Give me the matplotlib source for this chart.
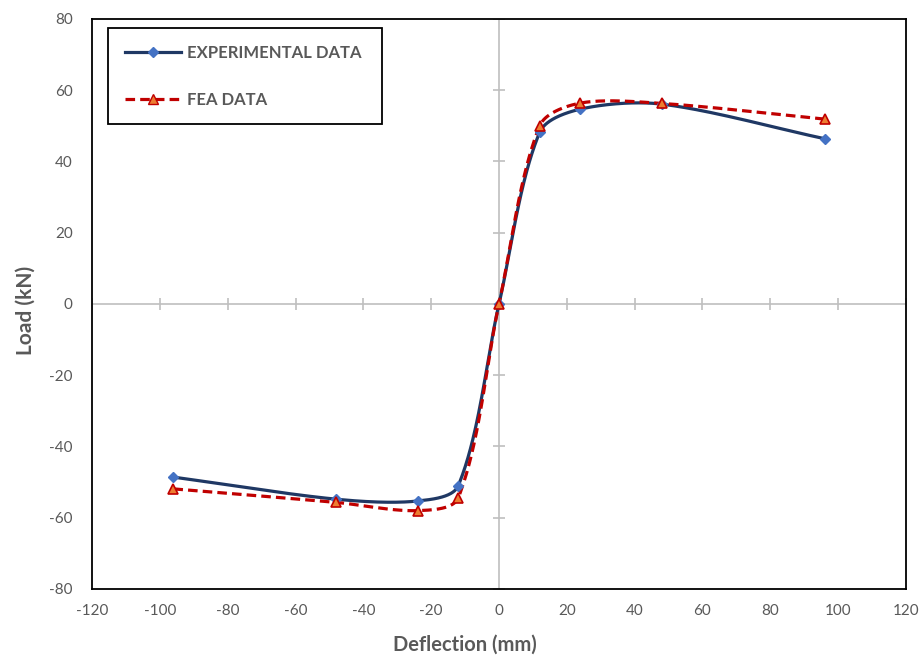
import matplotlib
matplotlib.use("Agg")
import matplotlib.pyplot as plt
import numpy as np

# Datos (carga vs deflexion)
deflexion = [-96, -48, -24, -12, 0, 12, 24, 48, 96]
carga_exp = [-48.6, -54.8, -55.3, -51.0, 0, 48.2, 54.7, 56.1, 46.4]
carga_fea = [-51.9, -55.7, -58.0, -54.4, 0, 50.0, 56.4, 56.3, 51.9]

xticks = list(range(-120, 121, 20))
yticks = list(range(-80, 81, 20))

plt.rcParams['font.family'] = ['Lato', 'DejaVu Sans']
plt.rcParams['axes.unicode_minus'] = False
gris = '#595959'


def suavizar(x, y, n=60, k=0.3, sy=1.05):
    # curva suavizada tipo Excel: tangentes escaladas por largo del tramo
    p = np.column_stack([x, np.array(y) * sy]).astype(float)
    m = len(p)
    tang = []
    for i in range(m):
        a = p[max(i - 1, 0)]
        b = p[min(i + 1, m - 1)]
        d = b - a
        tang.append(d / np.linalg.norm(d))
    pts = [p[0]]
    for i in range(m - 1):
        p1, p2 = p[i], p[i + 1]
        L = np.linalg.norm(p2 - p1)
        c1 = p1 + tang[i] * L * k
        c2 = p2 - tang[i + 1] * L * k
        t = np.linspace(0, 1, n)[1:, None]
        seg = ((1 - t) ** 3) * p1 + 3 * ((1 - t) ** 2) * t * c1 + 3 * (1 - t) * t ** 2 * c2 + t ** 3 * p2
        pts.extend(seg)
    pts = np.array(pts)
    return pts[:, 0], pts[:, 1] / sy


fig = plt.figure(figsize=(9.22, 6.55), dpi=100)
ax = fig.add_axes([0.0998, 0.1008, 0.8828, 0.8702])

ax.axhline(0, color='#BFBFBF', lw=1.2, zorder=1)
ax.axvline(0, color='#BFBFBF', lw=1.2, zorder=1)
ax.plot(xticks, [0] * len(xticks), ls='none', marker='|', ms=8, mew=1.2, color='#BFBFBF', zorder=1)
ax.plot([0] * len(yticks), yticks, ls='none', marker='_', ms=8, mew=1.2, color='#BFBFBF', zorder=1)

xs, ys = suavizar(deflexion, carga_exp)
ax.plot(xs, ys, color='#1F3864', lw=2.3, zorder=3)
ax.plot(deflexion, carga_exp, ls='none', marker='D', ms=5.5, color='#4472C4', zorder=4)

xs, ys = suavizar(deflexion, carga_fea)
ax.plot(xs, ys, color='#C00000', lw=2.3, ls=(0, (3, 1.6)), zorder=3)
ax.plot(deflexion, carga_fea, ls='none', marker='^', ms=7, mfc='#ED7D31', mec='#C00000', mew=1.2, zorder=4)

# entradas de leyenda
h1, = ax.plot([], [], color='#1F3864', lw=2.3, marker='D', ms=5.5, mfc='#4472C4', mec='#4472C4')
h2, = ax.plot([], [], color='#C00000', lw=2.3, ls=(0, (3, 1.6)), marker='^', ms=7, mfc='#ED7D31', mec='#C00000')
leg = ax.legend([h1, h2], ['EXPERIMENTAL DATA', 'FEA DATA'], loc='upper left',
                bbox_to_anchor=(0.0197, 0.984, 0.337, 0.0), mode='expand',
                fancybox=False, framealpha=1, edgecolor='black',
                prop={'weight': 'bold', 'size': 12}, labelcolor=gris,
                handlelength=3.4, labelspacing=1.85, borderpad=1.0, handletextpad=0.35,
                borderaxespad=0)
leg.get_frame().set_linewidth(1.3)

ax.set_xlim(-120, 120)
ax.set_ylim(-80, 80)
ax.set_xticks(xticks)
ax.set_yticks(yticks)
ax.tick_params(length=0, labelsize=11, labelcolor=gris)
ax.tick_params(axis='y', pad=14)
ax.tick_params(axis='x', pad=11)
for s in ax.spines.values():
    s.set_color('black')
    s.set_linewidth(1.3)

ax.set_xlabel('Deflection (mm)', fontsize=14.5, fontweight='bold', color=gris)
ax.set_ylabel('Load (kN)', fontsize=15, fontweight='bold', color=gris)
ax.xaxis.set_label_coords(0.458, -0.081)
ax.yaxis.set_label_coords(-0.069, 0.488)

fig.savefig('out.png', dpi=100)
